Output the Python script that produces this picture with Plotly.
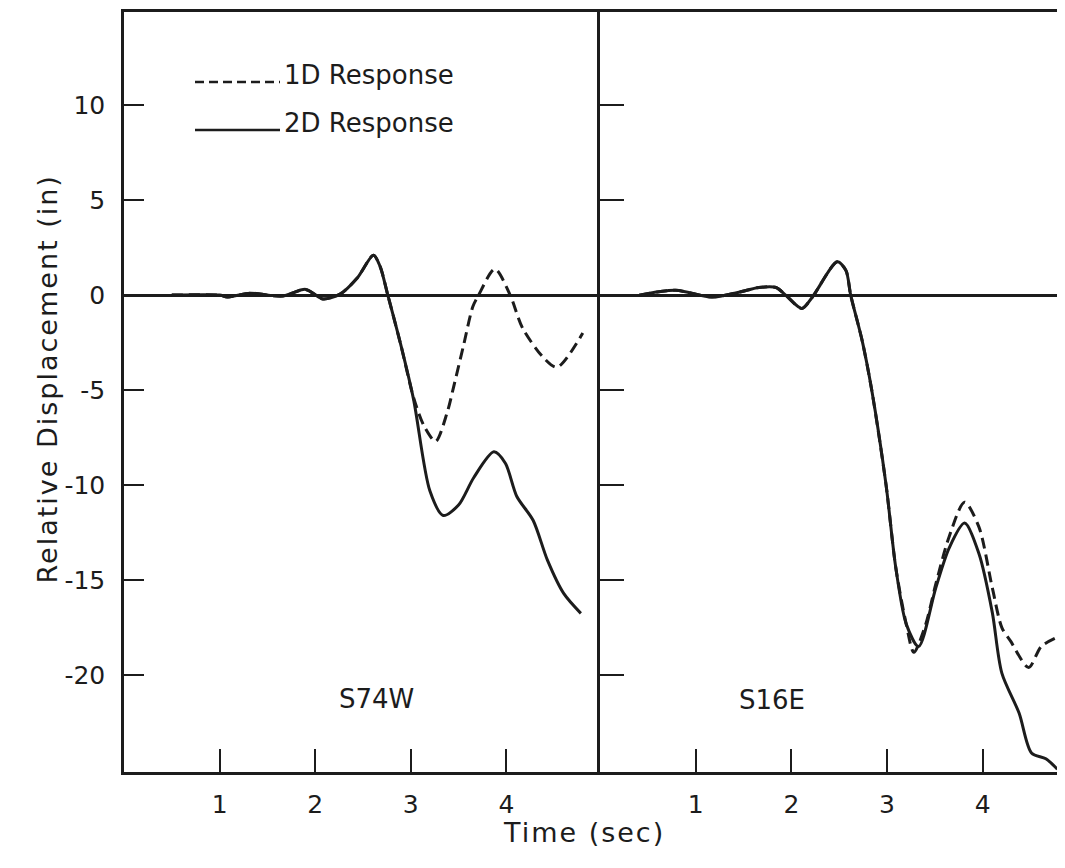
import plotly.graph_objects as go

# ---- data ----
s74w_t_2d = [0.5, 1.0, 1.08, 1.32, 1.66, 1.90, 2.08, 2.26, 2.44, 2.61, 2.68, 2.76, 2.90, 3.03,
             3.20, 3.34, 3.50, 3.66, 3.87, 3.99, 4.11, 4.28, 4.43, 4.60, 4.78]
s74w_y_2d = [0.0, 0.0, -0.1, 0.1, -0.05, 0.3, -0.2, 0.05, 0.9, 2.1, 1.5, 0.0, -2.7, -5.5,
             -10.3, -11.6, -11.05, -9.6, -8.25, -8.85, -10.6, -11.85, -13.95, -15.7, -16.75]

s74w_t_1d = [0.5, 1.0, 1.08, 1.32, 1.66, 1.90, 2.08, 2.26, 2.44, 2.61, 2.68, 2.76, 2.90, 3.03,
             3.14, 3.26, 3.38, 3.45, 3.55, 3.65, 3.71, 3.88, 4.04, 4.17, 4.39, 4.53, 4.80]
s74w_y_1d = [0.0, 0.0, -0.1, 0.1, -0.05, 0.3, -0.2, 0.05, 0.9, 2.1, 1.5, 0.0, -2.7, -5.4,
             -6.9, -7.7, -6.2, -4.8, -2.7, -0.6, 0.0, 1.37, 0.0, -1.74, -3.3, -3.8, -2.0]

s16e_t_2d = [0.41, 0.79, 1.17, 1.45, 1.66, 1.84, 1.94, 2.11, 2.22, 2.48, 2.57, 2.62, 2.74, 2.84,
             2.99, 3.09, 3.20, 3.33, 3.51, 3.65, 3.81, 3.96, 4.10, 4.20, 4.38, 4.51, 4.66, 4.78]
s16e_y_2d = [0.0, 0.25, -0.1, 0.15, 0.4, 0.4, 0.0, -0.7, -0.1, 1.75, 1.3, 0.0, -2.4, -5.0,
             -10.0, -14.3, -17.3, -18.5, -15.4, -13.3, -12.0, -13.6, -16.7, -19.9, -22.0, -24.1, -24.4, -24.95]

s16e_t_1d = [0.41, 0.79, 1.17, 1.45, 1.66, 1.84, 1.94, 2.11, 2.22, 2.48, 2.57, 2.62, 2.74, 2.84,
             2.99, 3.09, 3.20, 3.28, 3.40, 3.51, 3.65, 3.81, 3.96, 4.10, 4.20, 4.29, 4.48, 4.61, 4.76]
s16e_y_1d = [0.0, 0.25, -0.1, 0.15, 0.4, 0.4, 0.0, -0.7, -0.1, 1.75, 1.3, 0.0, -2.4, -5.0,
             -10.0, -14.3, -17.3, -18.8, -17.4, -15.2, -12.7, -10.9, -12.2, -15.4, -17.5, -18.2, -19.6, -18.5, -18.05]

x_ticks = [1, 2, 3, 4]
x_tick_labels = ["1", "2", "3", "4"]
y_ticks = [-20, -15, -10, -5, 0, 5, 10]
y_tick_labels = ["-20", "-15", "-10", "-5", "0", "5", "10"]
panel_names = ["S74W", "S16E"]
series_names = ["1D Response", "2D Response"]
x_title = "Time (sec)"
y_title = "Relative Displacement (in)"

INK = "#1c1c1c"
FONT = "DejaVu Sans, sans-serif"
FW, FH = 1057, 860      # figure size (page has an 8px body margin)
OFF = 8


def px(x):
    return (x - OFF) / FW


def py(y):
    return 1 - (y - OFF) / FH


def spaced(s, ls=2):
    return f'<span style="letter-spacing:{ls}px">{s}</span>'


fig = go.Figure()

solid = dict(color=INK, width=3)
dashed = dict(color=INK, width=3, dash="11px,6px")

fig.add_trace(go.Scatter(x=s74w_t_2d, y=s74w_y_2d, mode="lines", line=dict(**solid, shape="spline", smoothing=0.8),
                         xaxis="x", yaxis="y", name=series_names[1], showlegend=False))
fig.add_trace(go.Scatter(x=s74w_t_1d, y=s74w_y_1d, mode="lines", line=dict(**dashed, shape="spline", smoothing=0.8),
                         xaxis="x", yaxis="y", name=series_names[0], showlegend=False))
fig.add_trace(go.Scatter(x=s16e_t_2d, y=s16e_y_2d, mode="lines", line=dict(**solid, shape="spline", smoothing=0.8),
                         xaxis="x2", yaxis="y2", name=series_names[1], showlegend=False))
fig.add_trace(go.Scatter(x=s16e_t_1d, y=s16e_y_1d, mode="lines", line=dict(**dashed, shape="spline", smoothing=0.8),
                         xaxis="x2", yaxis="y2", name=series_names[0], showlegend=False))

left_x0, mid_x, right_x1 = px(124), px(600), 1.0
y_bot, y_top = py(772), py(12)
yr = [-25.1, 14.9]

common_x = dict(tickmode="array", tickvals=x_ticks, ticktext=x_tick_labels, ticks="inside",
                ticklen=23, tickwidth=2, tickcolor=INK, showline=True, linewidth=2.5, linecolor=INK,
                mirror=True, showgrid=False, zeroline=False, ticklabelstandoff=8,
                tickfont=dict(family=FONT, size=25, color=INK))

fig.update_layout(
    width=FW, height=FH,
    margin=dict(l=0, r=0, t=0, b=0),
    paper_bgcolor="white", plot_bgcolor="white",
    showlegend=False,
    xaxis=dict(domain=[left_x0, mid_x], range=[0, 4.98], anchor="y", **common_x),
    xaxis2=dict(domain=[mid_x, right_x1], range=[0, 4.86], anchor="y2", **common_x),
    yaxis=dict(domain=[y_bot, y_top], range=yr, anchor="x", tickmode="array", tickvals=y_ticks,
               ticktext=y_tick_labels, ticks="inside", ticklen=20, tickwidth=2, tickcolor=INK,
               showline=True, linewidth=2.5, linecolor=INK, mirror=False, showgrid=False,
               zeroline=True, zerolinecolor=INK, zerolinewidth=2.5, ticklabelstandoff=11,
               tickfont=dict(family=FONT, size=25, color=INK)),
    yaxis2=dict(domain=[y_bot, y_top], range=yr, anchor="x2", matches="y", tickmode="array",
                tickvals=y_ticks, ticks="inside", ticklen=24, tickwidth=2, tickcolor=INK,
                showticklabels=False, showline=True, linewidth=2.5, linecolor=INK, mirror=False,
                showgrid=False, zeroline=True, zerolinecolor=INK, zerolinewidth=2.5),
)

# legend drawn as key lines + labels
fig.add_shape(type="line", xref="paper", yref="paper", x0=px(195), x1=px(280),
              y0=py(82), y1=py(82), line=dict(color=INK, width=2.5, dash="9px,5px"))
fig.add_shape(type="line", xref="paper", yref="paper", x0=px(195), x1=px(280),
              y0=py(130), y1=py(130), line=dict(color=INK, width=2.5))
fig.add_annotation(xref="paper", yref="paper", x=px(282), y=py(75), text=series_names[0],
                   showarrow=False, xanchor="left", yanchor="middle",
                   font=dict(family=FONT, size=26, color=INK))
fig.add_annotation(xref="paper", yref="paper", x=px(282), y=py(123), text=series_names[1],
                   showarrow=False, xanchor="left", yanchor="middle",
                   font=dict(family=FONT, size=26, color=INK))

# panel labels
fig.add_annotation(xref="paper", yref="paper", x=px(376), y=py(716), text=panel_names[0],
                   showarrow=False, font=dict(family=FONT, size=26, color=INK))
fig.add_annotation(xref="paper", yref="paper", x=px(807), y=py(717), text=panel_names[1],
                   showarrow=False, font=dict(family=FONT, size=26, color=INK))

# axis titles
fig.add_annotation(xref="paper", yref="paper", x=px(584), y=py(850), text=spaced(x_title, 2),
                   showarrow=False, font=dict(family=FONT, size=27, color=INK))
fig.add_annotation(xref="paper", yref="paper", x=px(29), y=py(379),
                   text=spaced(y_title, 2), textangle=-90, showarrow=False,
                   font=dict(family=FONT, size=27, color=INK))

fig.write_html("out.html")
